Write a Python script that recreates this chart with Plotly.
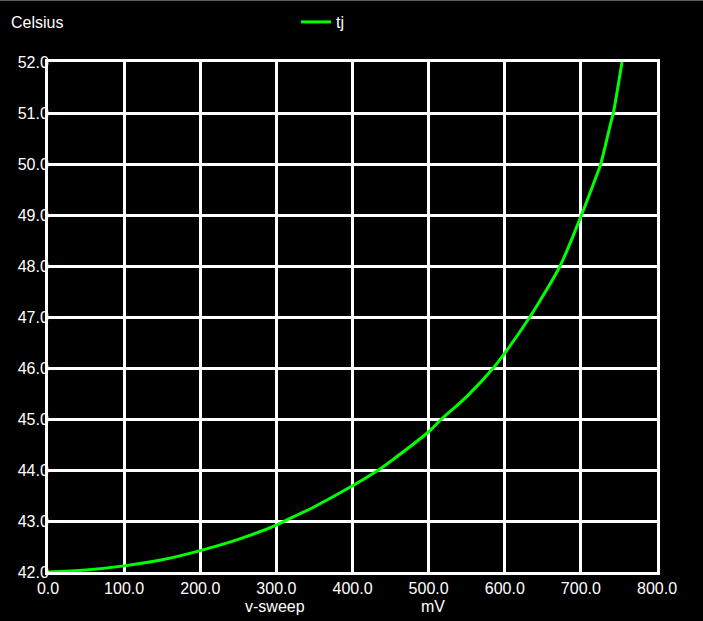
import plotly.graph_objects as go

# Values
v_sweep_mv = [0, 50, 100, 150, 200, 250, 300, 311, 350, 400, 434, 450, 500, 517,
              550, 585, 600, 633, 650, 672.6, 700, 720, 726, 740, 742.6, 754]
tj_celsius = [42.0, 42.04, 42.12, 42.24, 42.42, 42.64, 42.92, 43.0, 43.28, 43.69, 44.0, 44.17,
              44.75, 45.0, 45.44, 46.0, 46.29, 47.0, 47.41, 48.0, 48.97, 49.75, 50.0, 50.85, 51.0, 52.0]

x_ticks = [0, 100, 200, 300, 400, 500, 600, 700, 800]
x_tick_text = ["0.0", "100.0", "200.0", "300.0", "400.0", "500.0", "600.0", "700.0", "800.0"]
y_ticks = [42, 43, 44, 45, 46, 47, 48, 49, 50, 51, 52]
y_tick_text = ["42.0", "43.0", "44.0", "45.0", "46.0", "47.0", "48.0", "49.0", "50.0", "51.0", "52.0"]

FONT = "Liberation Sans, Arial, sans-serif"
W, H = 703, 621
ML, MR, MT, MB = 48, 46, 62, 49
PW = W - ML - MR
PH = H - MT - MB

fig = go.Figure()
fig.add_trace(go.Scatter(
    x=v_sweep_mv, y=tj_celsius, mode="lines", name="tj",
    line=dict(color="#00ff00", width=3, shape="spline"),
))

axis_common = dict(
    showgrid=True, gridcolor="white", gridwidth=3,
    showline=True, linecolor="white", linewidth=3, mirror=True,
    zeroline=False, ticks="", tickfont=dict(family=FONT, size=16, color="white"),
    tickmode="array", fixedrange=True,
)
fig.update_xaxes(range=[0, 800], tickvals=x_ticks, ticktext=x_tick_text, **axis_common)
fig.update_yaxes(range=[42, 52], tickvals=y_ticks, ticktext=y_tick_text,
                 ticklabelstandoff=-7, **axis_common)

fig.update_layout(
    width=W, height=H,
    margin=dict(l=ML, r=MR, t=MT, b=MB, pad=0, autoexpand=False),
    paper_bgcolor="black", plot_bgcolor="black",
    font=dict(family=FONT, size=16, color="white"),
    showlegend=True,
    legend=dict(orientation="h", xref="container", yref="container",
                x=296 / W, xanchor="left", y=1 - 22 / H, yanchor="middle",
                bgcolor="rgba(0,0,0,0)", font=dict(family=FONT, size=16, color="white")),
    annotations=[
        dict(text="Celsius", xref="paper", yref="paper", x=(9 - ML) / PW, y=1 + (MT - 22) / PH,
             xanchor="left", yanchor="middle", showarrow=False,
             font=dict(family=FONT, size=16, color="white")),
        dict(text="v-sweep", xref="paper", yref="paper", x=(275 - ML) / PW, y=-(606 - MT - PH) / PH,
             xanchor="center", yanchor="middle", showarrow=False,
             font=dict(family=FONT, size=16, color="white")),
        dict(text="mV", xref="paper", yref="paper", x=(433 - ML) / PW, y=-(606 - MT - PH) / PH,
             xanchor="center", yanchor="middle", showarrow=False,
             font=dict(family=FONT, size=16, color="white")),
    ],
    shapes=[
        dict(type="line", xref="paper", yref="paper",
             x0=-ML / PW, x1=1 + MR / PW, y0=1 + (MT - 0.5) / PH, y1=1 + (MT - 0.5) / PH,
             line=dict(color="#5a5a5a", width=1)),
    ],
)

fig.write_html(
    "out.html",
    config={"displayModeBar": False},
    post_script="document.body.style.margin='0';document.body.style.padding='0';"
                "document.documentElement.style.overflow='hidden';",
)
